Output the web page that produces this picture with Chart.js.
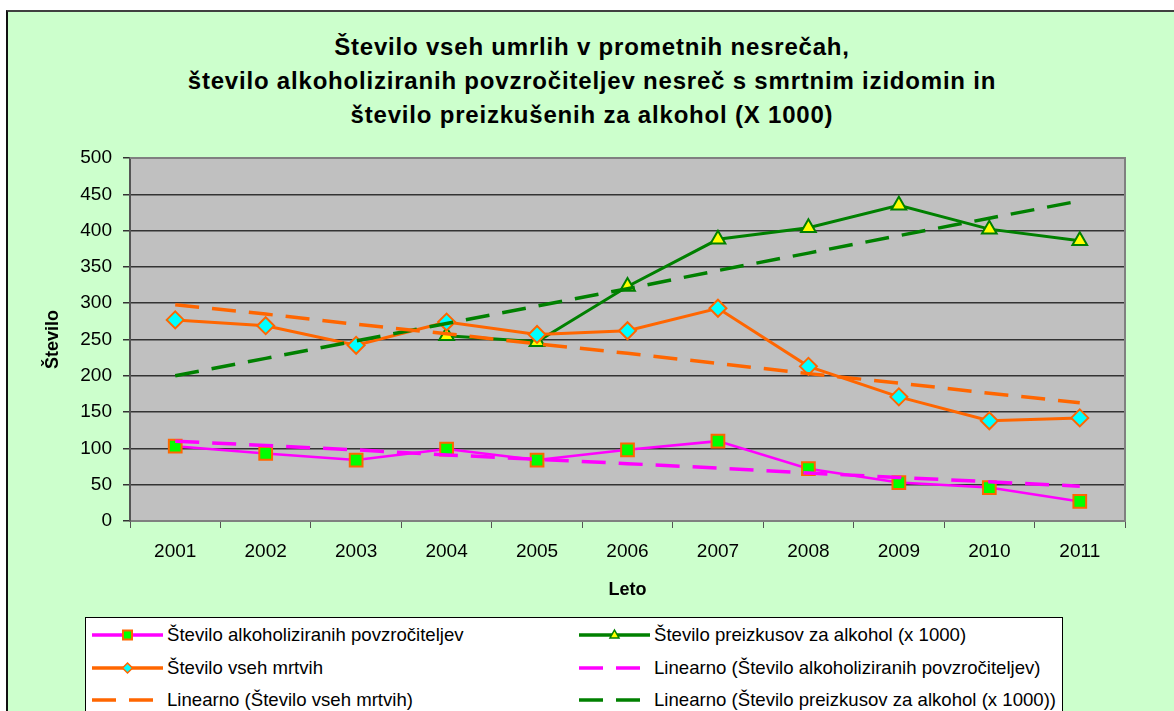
<!DOCTYPE html>
<html>
<head>
<meta charset="utf-8">
<script src="https://cdn.jsdelivr.net/npm/chart.js@4.4.1/dist/chart.umd.min.js"></script>
<style>
  body { margin: 0; background: #fff; font-family: "Liberation Sans", Arial, sans-serif; }
  #panel { position: absolute; left: 6px; top: 10px; width: 1168px; height: 701px; background: #ccffcc; border-left: 2px solid #111; border-top: 2px solid #404040; }
  #title { position: absolute; left: 92px; top: 30px; width: 1000px; text-align: center; font-weight: bold; font-size: 24px; letter-spacing: 0.8px; line-height: 34px; color: #000; }
  #chart { position: absolute; left: 0; top: 0; }
  #legend { position: absolute; left: 85px; top: 617px; width: 976px; height: 110px; background: #fff; border: 1px solid #000; }
  .item { position: absolute; height: 20px; line-height: 20px; font-size: 18.6px; color: #000; white-space: nowrap; }
  .item svg { position: absolute; left: 0; top: 0; }
  .item span { position: absolute; left: 75px; top: 0; }
</style>
</head>
<body>
<div id="panel"></div>
<div id="title">Število vseh umrlih v prometnih nesrečah,<br>število alkoholiziranih povzročiteljev nesreč s smrtnim izidomin in<br>število preizkušenih za alkohol (X 1000)</div>
<canvas id="chart" width="1174" height="711"></canvas>
<div id="legend"></div>
<script>
const years = ["2001", "2002", "2003", "2004", "2005", "2006", "2007", "2008", "2009", "2010", "2011"];

const alkoholizirani = [103, 93, 84, 99, 84, 98, 110, 72, 53, 46, 27];
const vsiMrtvi = [277, 269, 242, 274, 257, 262, 293, 213, 171, 138, 142];
const preizkusi = [null, null, null, 255, 247, 323, 388, 404, 435, 402, 386];

// trendne črte (odčitano s slike)
const trendAlkoholizirani = [110, 104, 98, 91, 85, 79, 73, 66, 60, 54, 48];
const trendMrtvi = [298, 285, 271, 258, 244, 231, 217, 203, 190, 176, 163];
const trendPreizkusi = [200, 224, 248, 272, 296, 320, 345, 369, 393, 417, 441];

const yTicks = [0, 50, 100, 150, 200, 250, 300, 350, 400, 450, 500];

const FONT = '"Liberation Sans", Arial, sans-serif';
const DASH = [24, 13];

const datasets = [
  {
    label: "Število alkoholiziranih povzročiteljev",
    data: alkoholizirani,
    borderColor: "#ff00ff",
    borderWidth: 2.5,
    pointStyle: "rect",
    pointRadius: 9,
    pointBackgroundColor: "#00ff00",
    pointBorderColor: "#ff6600",
    pointBorderWidth: 2,
    order: 1,
  },
  {
    label: "Število vseh mrtvih",
    data: vsiMrtvi,
    borderColor: "#ff6600",
    borderWidth: 3,
    pointStyle: "rectRot",
    pointRadius: 8.5,
    pointBackgroundColor: "#00ffff",
    pointBorderColor: "#ff6600",
    pointBorderWidth: 2,
    order: 1,
  },
  {
    label: "Število preizkusov za alkohol (x 1000)",
    data: preizkusi,
    borderColor: "#008000",
    borderWidth: 3,
    pointStyle: "triangle",
    pointRadius: 8.5,
    pointBackgroundColor: "#ffff00",
    pointBorderColor: "#008000",
    pointBorderWidth: 2,
    order: 1,
  },
  {
    label: "Linearno (Število alkoholiziranih povzročiteljev)",
    data: trendAlkoholizirani,
    borderColor: "#ff00ff",
    borderWidth: 3.5,
    borderDash: DASH,
    pointRadius: 0,
    order: 0,
  },
  {
    label: "Linearno (Število vseh mrtvih)",
    data: trendMrtvi,
    borderColor: "#ff6600",
    borderWidth: 3.5,
    borderDash: DASH,
    pointRadius: 0,
    order: 0,
  },
  {
    label: "Linearno (Število preizkusov za alkohol (x 1000))",
    data: trendPreizkusi,
    borderColor: "#008000",
    borderWidth: 3.5,
    borderDash: DASH,
    pointRadius: 0,
    order: 0,
  },
];

const plotArea = {
  id: "plotArea",
  beforeDraw(chart) {
    const { ctx, chartArea: a } = chart;
    ctx.save();
    ctx.fillStyle = "#c0c0c0";
    ctx.fillRect(a.left, a.top, a.width, a.height);
    ctx.restore();
  },
  beforeDatasetsDraw(chart) {
    const { ctx, chartArea: a } = chart;
    ctx.save();
    ctx.strokeStyle = "#808080";
    ctx.lineWidth = 2;
    ctx.beginPath();
    ctx.moveTo(a.left, a.top);
    ctx.lineTo(a.right, a.top);
    ctx.lineTo(a.right, a.bottom);
    ctx.stroke();
    ctx.restore();
  },
};

new Chart(document.getElementById("chart"), {
  type: "line",
  data: { labels: years, datasets },
  plugins: [plotArea],
  options: {
    responsive: false,
    animation: false,
    devicePixelRatio: 1,
    layout: { padding: { left: 38, right: 49, top: 158, bottom: 106 } },
    plugins: { legend: { display: false }, tooltip: { enabled: false } },
    elements: { line: { tension: 0 } },
    scales: {
      x: {
        offset: true,
        grid: { drawOnChartArea: false, offset: true, tickLength: 7, color: "#555" },
        border: { color: "#808080", width: 2 },
        ticks: { color: "#000", font: { family: FONT, size: 19 }, padding: 12, maxRotation: 0 },
        title: { display: true, text: "Leto", color: "#000", font: { family: FONT, size: 18, weight: "bold" }, padding: { top: 4, bottom: 4 } },
        afterFit: (s) => { s.height = 84; },
      },
      y: {
        min: 0,
        max: 500,
        afterBuildTicks: (s) => { s.ticks = yTicks.map((v) => ({ value: v })); },
        grid: { color: "#333", lineWidth: 1.5, tickLength: 7, tickColor: "#333" },
        border: { color: "#555", width: 2 },
        ticks: { color: "#000", font: { family: FONT, size: 19 }, padding: 11 },
        title: { display: true, text: "Število", color: "#000", font: { family: FONT, size: 18, weight: "bold" }, padding: { top: 4, bottom: 4 } },
        afterFit: (s) => { s.width = 92; },
      },
    },
  },
});

// legenda v dveh stolpcih, kot v izvirniku
const legendPos = [
  [0, 0], // alkoholizirani
  [0, 1], // vsi mrtvi
  [1, 0], // preizkusi
  [1, 1], // trend alkoholizirani
  [0, 2], // trend mrtvi
  [1, 2], // trend preizkusi
];
const colX = [6, 493];
const rowY = [7, 40, 72];

const swatch = (ds) => {
  const dash = ds.borderDash ? `stroke-dasharray="${ds.borderDash.join(" ")}"` : "";
  let marker = "";
  const f = ds.pointBackgroundColor, b = ds.pointBorderColor;
  if (ds.pointStyle === "rect") marker = `<rect x="31" y="5.5" width="9" height="9" fill="${f}" stroke="${b}" stroke-width="2"/>`;
  if (ds.pointStyle === "rectRot") marker = `<polygon points="35.5,5 40.5,10 35.5,15 30.5,10" fill="${f}" stroke="${b}" stroke-width="1.5"/>`;
  if (ds.pointStyle === "triangle") marker = `<polygon points="35.5,5 40,13 31,13" fill="${f}" stroke="${b}" stroke-width="1.5"/>`;
  return `<svg width="72" height="20"><line x1="0" y1="10" x2="71" y2="10" stroke="${ds.borderColor}" stroke-width="3.5" ${dash}/>${marker}</svg>`;
};

document.getElementById("legend").innerHTML = datasets
  .map((ds, i) => {
    const [c, r] = legendPos[i];
    return `<div class="item" style="left:${colX[c]}px; top:${rowY[r]}px;">${swatch(ds)}<span>${ds.label}</span></div>`;
  })
  .join("");
</script>
</body>
</html>
